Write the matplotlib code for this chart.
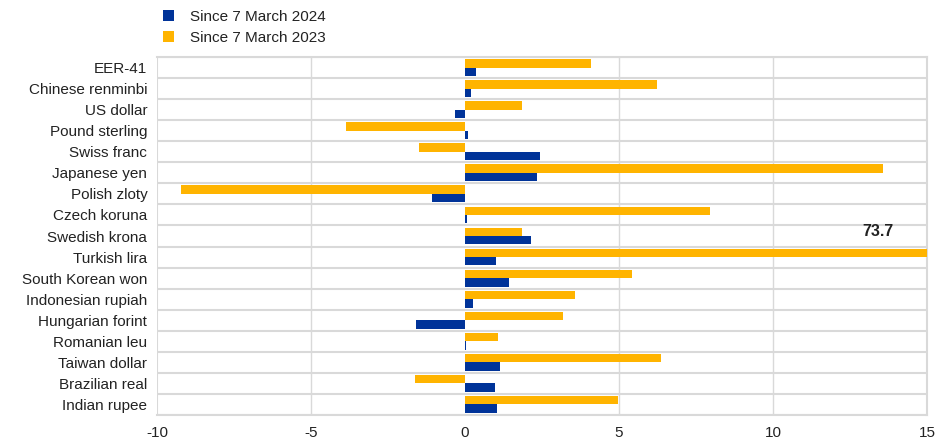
import numpy as np
import matplotlib
matplotlib.use('Agg')
import matplotlib.pyplot as plt

plt.rcParams['font.family'] = ['Liberation Sans', 'DejaVu Sans']

currencies = ["EER-41", "Chinese renminbi", "US dollar", "Pound sterling", "Swiss franc",
              "Japanese yen", "Polish zloty", "Czech koruna", "Swedish krona", "Turkish lira",
              "South Korean won", "Indonesian rupiah", "Hungarian forint", "Romanian leu",
              "Taiwan dollar", "Brazilian real", "Indian rupee"]
since_2024 = [0.35, 0.18, -0.32, 0.10, 2.44, 2.35, -1.08, 0.05, 2.14, 1.00,
              1.44, 0.27, -1.58, 0.02, 1.14, 0.96, 1.03]
since_2023 = [4.08, 6.22, 1.86, -3.86, -1.48, 13.58, -9.22, 7.96, 1.86, 73.7,
              5.41, 3.57, 3.17, 1.06, 6.35, -1.63, 4.96]

BLUE = "#003399"
ORANGE = "#FFB400"
GRID = "#D9D9D9"
TEXT = "#222222"

fig = plt.figure(figsize=(9.46, 4.41), dpi=100)
ax = fig.add_axes([157 / 946, 1 - 415 / 441, 770 / 946, 358 / 441])

y = np.arange(len(currencies))
h = 0.4
ax.barh(y + h / 2, since_2024, height=h, color=BLUE, label="Since 7 March 2024", zorder=3)
ax.barh(y - h / 2, since_2023, height=h, color=ORANGE, label="Since 7 March 2023", zorder=3)

ax.set_xlim(-10, 15)
ax.set_ylim(len(currencies) - 0.5, -0.5)
ax.set_xticks([-10, -5, 0, 5, 10, 15])
ax.set_xticklabels(["-10", "-5", "0", "5", "10", "15"], fontsize=11, color=TEXT)
ax.set_yticks(y)
ax.set_yticklabels(currencies, fontsize=11, color=TEXT)
ax.tick_params(axis='y', length=0, pad=7)
ax.tick_params(axis='x', length=0, pad=8)

# grid: vertical at ticks, horizontal between categories
for xv in [-5, 5, 10]:
    ax.axvline(xv, color=GRID, lw=1, zorder=1)
for yb in np.arange(-0.5, len(currencies), 1.0):
    ax.axhline(yb, color=GRID, lw=1.5, zorder=1)
for s in ax.spines.values():
    s.set_color(GRID)
    s.set_linewidth(1.5)
ax.spines['left'].set_visible(False)
ax.axvline(-10, color=GRID, lw=1.5, zorder=1)

ax.text(13.4, 7.78, "73.7", fontsize=11.5, fontweight='bold', ha='center', va='center', color=TEXT)

handles, labels = ax.get_legend_handles_labels()
fig.legend(handles, labels, loc='upper left', bbox_to_anchor=(153 / 946, 1.0), frameon=False,
           handlelength=0.75, handleheight=0.75, handletextpad=1.0,
           labelspacing=0.45, borderaxespad=0.25, prop={'size': 11})
for t in fig.legends[0].get_texts():
    t.set_color(TEXT)

fig.savefig("out.png", dpi=100)
